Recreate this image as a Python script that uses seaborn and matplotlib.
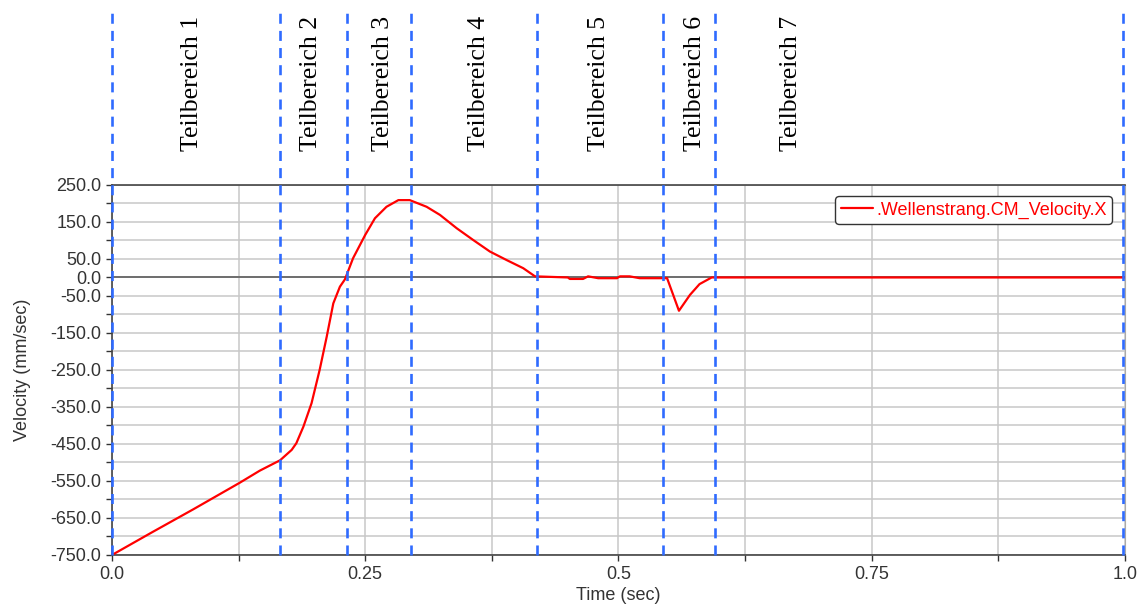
import seaborn as sns
import matplotlib.pyplot as plt
import pandas as pd

# velocity curve
time_s = [0.0, 0.04, 0.08, 0.126, 0.146, 0.166, 0.1774, 0.182, 0.189, 0.197,
          0.205, 0.212, 0.2185, 0.225, 0.230, 0.238, 0.250, 0.2596, 0.271,
          0.2827, 0.294, 0.3106, 0.3238, 0.3403, 0.3567, 0.3731, 0.3896,
          0.406, 0.4176, 0.450, 0.452, 0.465, 0.470, 0.480, 0.4985, 0.5015,
          0.511, 0.521, 0.548, 0.5597, 0.5706, 0.580, 0.592, 1.0]
velocity = [-750, -688, -627, -555, -522, -494, -466, -448, -403, -340,
            -250, -160, -70, -25, -5, 52, 115, 160, 191,
            209, 209, 191, 169, 133, 101, 70, 47,
            25, 3, 0, -4, -4, 3, -2, -2, 3,
            3, -2, -2, -90, -47, -18, 0, 0]

# region boundaries (dashed lines) and region labels
boundaries = [0.0, 0.166, 0.232, 0.295, 0.4195, 0.544, 0.595, 0.998]
region_names = ['Teilbereich 1', 'Teilbereich 2', 'Teilbereich 3', 'Teilbereich 4',
                'Teilbereich 5', 'Teilbereich 6', 'Teilbereich 7']
region_label_x = [0.079, 0.196, 0.268, 0.362, 0.481, 0.576, 0.670]

y_ticks = list(range(-750, 251, 50))
y_tick_labels = ['-750.0', '', '-650.0', '', '-550.0', '', '-450.0', '', '-350.0', '',
                 '-250.0', '', '-150.0', '', '-50.0', '0.0', '50.0', '', '150.0', '', '250.0']
x_ticks = [0.0, 0.125, 0.25, 0.375, 0.5, 0.625, 0.75, 0.875, 1.0]
x_tick_labels = ['0.0', '', '0.25', '', '0.5', '', '0.75', '', '1.0']

sns.set_style('white')
plt.rcParams['font.family'] = ['Liberation Sans', 'DejaVu Sans']

df = pd.DataFrame({'Time (sec)': time_s, 'Velocity (mm/sec)': velocity})

fig = plt.figure(figsize=(11.39, 6.10), dpi=100)
ax = fig.add_axes([0.0983, 0.0902, 0.8894, 0.6066])

# grid + zero line
ax.set_xticks(x_ticks)
ax.set_xticklabels(x_tick_labels)
ax.set_yticks(y_ticks)
ax.set_yticklabels(y_tick_labels)
ax.grid(True, color='#c8c8c8', linewidth=1.1)
ax.set_axisbelow(True)
ax.axhline(0, color='#6e6e6e', linewidth=1.4, zorder=1)

sns.lineplot(data=df, x='Time (sec)', y='Velocity (mm/sec)', color='#ff0000',
             linewidth=1.6, label='.Wellenstrang.CM_Velocity.X', ax=ax, zorder=3)

ax.set_xlim(0, 1.0)
ax.set_ylim(-750, 250)

for b in boundaries:
    ax.axvline(b, ymin=0, ymax=1.468, color='#2f6bff', linewidth=1.9,
               linestyle=(0, (3.8, 2.7)), clip_on=False, zorder=4)

for name, xpos in zip(region_names, region_label_x):
    ax.text(xpos, 1.274, name, transform=ax.get_xaxis_transform(), rotation=90,
            ha='center', va='center', fontsize=18.5, family='Liberation Serif',
            color='black')

for side in ['left', 'bottom', 'top']:
    ax.spines[side].set_color('#444444')
    ax.spines[side].set_linewidth(1.2)
ax.spines['right'].set_color('#aaaaaa')

ax.tick_params(axis='both', direction='out', length=4, width=1, color='#333333',
               labelsize=13, labelcolor='#333333', bottom=True, left=True)
ax.tick_params(axis='x', pad=4)
ax.set_xlabel('Time (sec)', fontsize=13, color='#333333', labelpad=3)
ax.set_ylabel('Velocity (mm/sec)', fontsize=13, color='#333333', labelpad=14)

leg = ax.legend(loc='upper right', bbox_to_anchor=(0.987, 0.970), borderaxespad=0,
                fontsize=13, labelcolor='#ff0000', fancybox=True, framealpha=1,
                edgecolor='#333333', handlelength=1.8, handletextpad=0.15,
                borderpad=0.3)
leg.get_frame().set_linewidth(1.0)

fig.savefig('out.png', dpi=100)
